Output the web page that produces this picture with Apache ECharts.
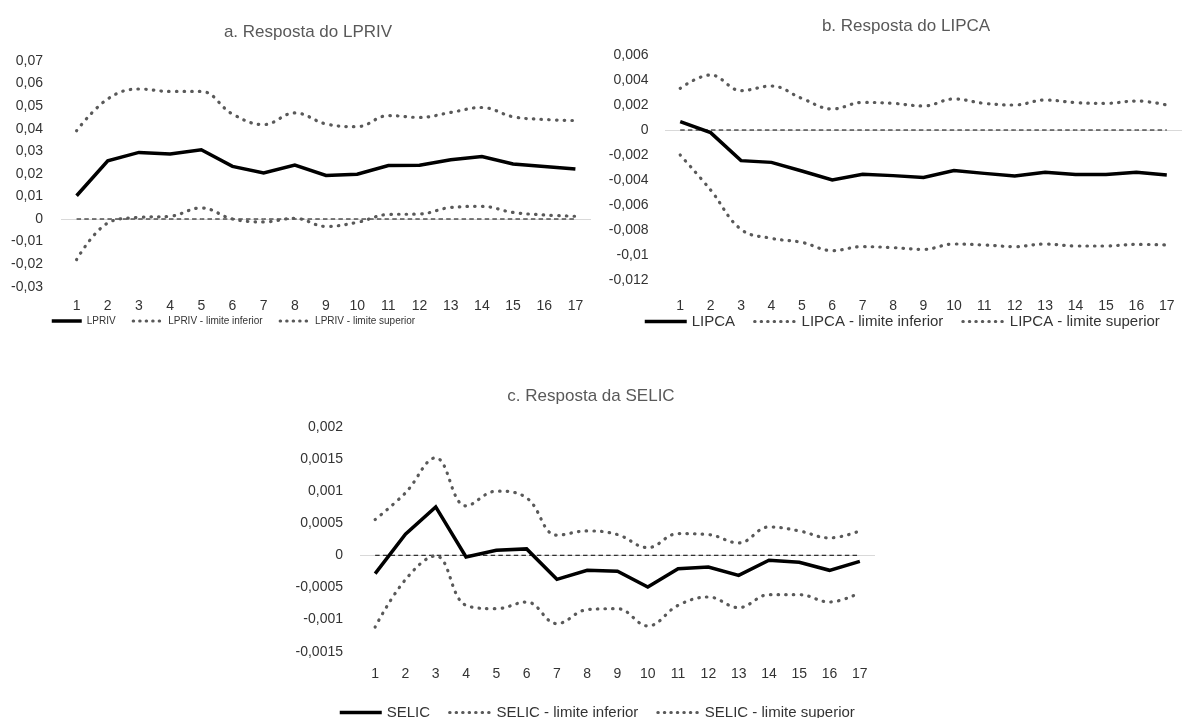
<!DOCTYPE html>
<html>
<head>
<meta charset="utf-8">
<script src="https://cdn.jsdelivr.net/npm/echarts@6/dist/echarts.min.js"></script>
<style>html,body{margin:0;padding:0;background:#fff}#c{width:1182px;height:718px}</style>
</head>
<body>
<div id="c"></div>
<script>
const periods = ['1','2','3','4','5','6','7','8','9','10','11','12','13','14','15','16','17'];

const lpriv      = [0.0103,0.0258,0.0295,0.0288,0.0307,0.0233,0.0204,0.0239,0.0193,0.0198,0.0237,0.0238,0.0262,0.0277,0.0244,0.0233,0.0221];
const lprivInf   = [-0.0180,-0.0018,0.0007,0.0012,0.0049,0.0000,-0.0013,0.0003,-0.0033,-0.0015,0.0020,0.0022,0.0051,0.0056,0.0029,0.0018,0.0012];
const lprivSup   = [0.0391,0.0532,0.0576,0.0565,0.0565,0.0465,0.0418,0.0470,0.0421,0.0409,0.0458,0.0450,0.0472,0.0494,0.0453,0.0441,0.0436];

const lipca      = [0.00067,-0.00021,-0.00245,-0.00259,-0.00328,-0.00400,-0.00355,-0.00365,-0.00379,-0.00325,-0.00347,-0.00368,-0.00339,-0.00355,-0.00355,-0.00339,-0.00360];
const lipcaInf   = [-0.00200,-0.00480,-0.00795,-0.00867,-0.00899,-0.00965,-0.00933,-0.00941,-0.00955,-0.00912,-0.00920,-0.00933,-0.00912,-0.00928,-0.00928,-0.00915,-0.00920];
const lipcaSup   = [0.00333,0.00440,0.00315,0.00352,0.00253,0.00168,0.00221,0.00213,0.00192,0.00248,0.00213,0.00200,0.00240,0.00219,0.00213,0.00232,0.00200];

const selic      = [-0.000286,0.000327,0.000753,-0.000026,0.000078,0.000099,-0.000374,-0.000234,-0.000249,-0.000493,-0.000208,-0.000182,-0.000312,-0.000078,-0.000109,-0.000234,-0.000094];
const selicInf   = [-0.001116,-0.000379,-0.000010,-0.000779,-0.000831,-0.000727,-0.001064,-0.000846,-0.000831,-0.001100,-0.000779,-0.000649,-0.000815,-0.000613,-0.000613,-0.000727,-0.000582];
const selicSup   = [0.000556,0.000971,0.001516,0.000768,0.000997,0.000893,0.000312,0.000379,0.000322,0.000119,0.000337,0.000322,0.000192,0.000441,0.000379,0.000270,0.000379];

const zeros = periods.map(() => 0);

const titles = ['a. Resposta do LPRIV', 'b. Resposta do LIPCA', 'c. Resposta da SELIC'];
const names = [
  ['LPRIV', 'LPRIV - limite inferior', 'LPRIV - limite superior'],
  ['LIPCA', 'LIPCA - limite inferior', 'LIPCA - limite superior'],
  ['SELIC', 'SELIC - limite inferior', 'SELIC - limite superior']
];
const yScales = [
  {min: -0.03, max: 0.07, interval: 0.01},
  {min: -0.012, max: 0.006, interval: 0.002},
  {min: -0.0015, max: 0.002, interval: 0.0005}
];
const dataSets = [[lpriv, lprivInf, lprivSup],[lipca, lipcaInf, lipcaSup],[selic, selicInf, selicSup]];

const FONT = 'Liberation Sans';
const TXT = '#333333';
const fmt = v => String(Number(v.toFixed(6))).replace('.', ',');

const grids = [
  {left: 61, top: 61, width: 530, height: 225.7},
  {left: 665, top: 55, width: 524, height: 225},
  {left: 360, top: 426.7, width: 515, height: 225}
];
const labelMargins = [12, 19, 15];
const yLabelMargins = [18, 16.5, 17];
const titlePos = [{x: 303, y: 18.5}, {x: 901, y: 12.5}, {x: 586, y: 383}];
const legendPos = [
  {left: 45, top: 311, itemWidth: 30, fontSize: 10, itemGap: 16},
  {left: 638, top: 309, itemWidth: 42, fontSize: 15, itemGap: 18},
  {left: 333, top: 700, itemWidth: 42, fontSize: 15, itemGap: 18}
];

const option = {
  animation: false,
  backgroundColor: '#fff',
  title: titles.map((t, i) => ({
    text: t, left: titlePos[i].x, top: titlePos[i].y, textAlign: 'center',
    textStyle: {fontFamily: FONT, fontSize: 17, fontWeight: 'normal', color: '#595959'}
  })),
  grid: grids,
  xAxis: grids.map((g, i) => ({
    type: 'category', gridIndex: i, data: periods, boundaryGap: true,
    axisLine: {show: false}, axisTick: {show: false}, splitLine: {show: false},
    axisLabel: {fontFamily: FONT, fontSize: 14, color: TXT, margin: labelMargins[i], interval: 0}
  })),
  yAxis: grids.map((g, i) => ({
    type: 'value', gridIndex: i, min: yScales[i].min, max: yScales[i].max, interval: yScales[i].interval,
    axisLine: {show: false}, axisTick: {show: false}, splitLine: {show: false},
    axisLabel: {fontFamily: FONT, fontSize: 14, color: TXT, margin: yLabelMargins[i], formatter: fmt}
  })),
  legend: legendPos.map((l, i) => ({
    data: [
      {name: names[i][0], lineStyle: {width: 3.5, color: '#000'}},
      {name: names[i][1], lineStyle: {width: 3, color: '#595959', type: [0.5, 6], cap: 'round'}},
      {name: names[i][2], lineStyle: {width: 3, color: '#595959', type: [0.5, 6], cap: 'round'}}
    ],
    left: l.left, top: l.top, itemWidth: l.itemWidth, itemHeight: 10, itemGap: l.itemGap,
    itemStyle: {opacity: 0},
    textStyle: {fontFamily: FONT, fontSize: l.fontSize, color: TXT}, selectedMode: false
  })),
  series: []
};

dataSets.forEach((ds, i) => {
  option.series.push({
    name: 'eixo' + i, type: 'line', xAxisIndex: i, yAxisIndex: i, data: zeros, symbol: 'none', z: 1,
    lineStyle: {opacity: 0}, silent: true,
    markLine: {z: 1, symbol: 'none', silent: true, label: {show: false}, data: [{yAxis: 0}],
      lineStyle: {color: '#d9d9d9', type: 'solid', width: 1}}
  });
  option.series.push({
    name: 'zero' + i, type: 'line', xAxisIndex: i, yAxisIndex: i, data: zeros, symbol: 'none', z: 2,
    lineStyle: {color: '#000', width: 1, type: [4.5, 3.2]}, silent: true
  });
  option.series.push({
    name: names[i][0], type: 'line', xAxisIndex: i, yAxisIndex: i, data: ds[0], symbol: 'none', z: 4,
    color: '#000', lineStyle: {color: '#000', width: 3.5, join: 'miter'}
  });
  [1, 2].forEach(k => option.series.push({
    name: names[i][k], type: 'line', xAxisIndex: i, yAxisIndex: i, data: ds[k], symbol: 'none', z: 3,
    smooth: 0.4, color: '#595959',
    lineStyle: {color: '#595959', width: 3.2, type: [0.5, 7.2], cap: 'round'}
  }));
});

const chart = echarts.init(document.getElementById('c'), null, {renderer: 'canvas'});
chart.setOption(option);
</script>
</body>
</html>
